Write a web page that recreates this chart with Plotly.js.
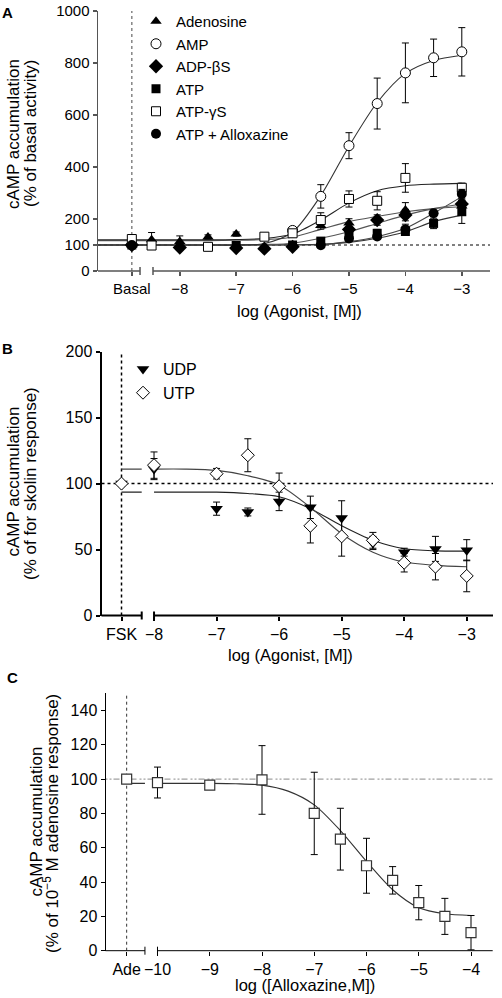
<!DOCTYPE html>
<html><head><meta charset="utf-8">
<script src="https://cdn.plot.ly/plotly-3.0.1.min.js"></script>
<style>html,body{margin:0;padding:0;background:#fff}#chart{width:502px;height:998px}</style>
</head><body><div id="chart"></div>
<script>
// ================= DATA =================
// ---- Panel A: log(agonist) doses, % of basal ----
const adenosineDose = ['Basal', -8.5, -8, -7.5, -7, -5.5, -5, -4, -3];
const adenosineVal  = [100, 120, 113, 131, 142, 175, 185, 235, 250];
const adenosineErr  = [4, 28, 22, 8, 8, 14, 16, 28, 20];

const ampDose = ['Basal', -6, -5.5, -5, -4.5, -4, -3.5, -3];
const ampVal  = [100, 156, 287, 482, 644, 762, 820, 843];
const ampErr  = [4, 8, 45, 50, 98, 115, 72, 93];

const adpbsDose = ['Basal', -8, -7, -6.5, -6, -5, -4.5, -4, -3];
const adpbsVal  = [100, 90, 88, 86, 93, 160, 196, 215, 258];
const adpbsErr  = [4, 8, 8, 6, 6, 12, 20, 22, 14];

const atpDose = ['Basal', -7, -6, -5.5, -5, -4.5, -4, -3.5, -3];
const atpVal  = [100, 98, 100, 115, 140, 145, 152, 183, 228];
const atpErr  = [4, 5, 5, 8, 12, 15, 15, 20, 45];

const atpgsDose = ['Basal', -8.5, -7.5, -6.5, -6, -5.5, -5, -4.5, -4, -3];
const atpgsVal  = [123, 98, 93, 132, 145, 196, 277, 270, 358, 320];
const atpgsErr  = [5, 5, 5, 8, 8, 28, 31, 35, 55, 18];

const alloxDose = ['Basal', -5.5, -5, -4.5, -4, -3.5, -3];
const alloxVal  = [100, 99, 125, 133, 160, 222, 296];
const alloxErr  = [4, 5, 10, 10, 20, 12, 18];

// fitted curves
const aCurveDose  = ['axis', 'Basal', -8.5, -8, -7.5, -7, -6.5, -6, -5.5, -5, -4.5, -4, -3.5, -3];
const ampCurve    = [100, 100, 100, 100, 100, 100, 106, 150, 290, 480, 648, 760, 810, 830];
const atpgsCurve  = [120, 120, 120, 120, 120, 121, 125, 142, 196, 262, 309, 328, 334, 337];
const adenoCurve  = [117, 117, 117, 117, 117, 118, 121, 130, 160, 190, 210, 228, 240, 247];
const adpbsCurve  = [100, 100, 100, 100, 100, 100, 102, 107, 126, 151, 183, 215, 240, 258];
const atpCurve    = [100, 100, 100, 100, 100, 100, 100, 101, 103, 110, 126, 151, 190, 215];
const alloxCurve  = [100, 100, 100, 100, 100, 100, 100, 100, 101, 113, 132, 164, 222, 286];
const aTickLabels = ['Basal', '−8', '−7', '−6', '−5', '−4', '−3'];
const aTickDoses  = ['Basal', -8, -7, -6, -5, -4, -3];

// ---- Panel B: % of forskolin response ----
const udpDose = ['FSK', -8, -7, -6.5, -6, -5.5, -5, -4.5, -4, -3.5, -3];
const udpVal  = [100, 111, 81, 78.5, 86.5, 82, 74, 55, 48, 50.5, 49.5];
const udpErr  = [2, 8, 5, 3, 7, 8.5, 13, 5, 3, 9.5, 8];

const utpDose = ['FSK', -8, -7, -6.5, -6, -5.5, -5, -4.5, -4, -3.5, -3];
const utpVal  = [100, 114, 107.5, 121.5, 98, 68, 60, 57, 40, 37, 30];
const utpErr  = [2, 10, 4, 12.5, 10, 13, 15, 6, 7, 10, 12];

const bCurveDose = ['FSK', 'break', null, -8, -7.5, -7, -6.5, -6, -5.5, -5, -4.5, -4, -3.5, -3];
const utpCurve   = [111, 111, null, 111, 111, 110, 106, 99, 82, 62, 48, 40.5, 38, 37];
const udpCurve   = [93.5, 93.5, null, 93.5, 93.5, 93.5, 92.5, 90, 81, 68, 57, 50.6, 49, 48.8];
const bTickLabels = ['FSK', '−8', '−7', '−6', '−5', '−4', '−3'];
const bTickDoses  = ['FSK', -8, -7, -6, -5, -4, -3];

// ---- Panel C: % of 10^-5 M adenosine response ----
const alloxCDose = ['Ade', -10, -9, -8, -7, -6.5, -6, -5.5, -5, -4.5, -4];
const alloxCVal  = [100, 98, 96.5, 99.5, 80, 65, 49.5, 41, 28, 20, 10.5];
const alloxCErr  = [1, 9, 1, 20, 24, 18, 16, 8, 10, 10.5, 10];
const cCurveDose = ['Ade', 'break', null, -10, -9.5, -9, -8.5, -8, -7.5, -7, -6.5, -6, -5.5, -5, -4.5, -4];
const cCurve     = [97.5, 97.5, null, 97.5, 97.5, 97.5, 97.3, 96.5, 93, 85, 70, 52, 35.5, 25, 21.5, 20.5];
const cTickLabels = ['Ade', '−10', '−9', '−8', '−7', '−6', '−5', '−4'];
const cTickDoses  = ['Ade', -10, -9, -8, -7, -6, -5, -4];

// ================= LAYOUT CONFIG =================
const W = 502, H = 998;
const FONT = 'Liberation Sans, Arial, Helvetica, sans-serif';
const A = {x0: 98, x1: 490, y0: 11, y1: 271, range: [-9.45, -2.5], yr: [0, 1000],
           special: {Basal: -8.85, axis: -9.45}, brk: [-8.705, -8.475]};
const B = {x0: 101.5, x1: 493, y0: 351.7, y1: 615.5, range: [-8.84, -2.58], yr: [0, 200],
           special: {FSK: -8.52, 'break': -8.197}, brk: [-8.197, -8.0]};
const C = {x0: 105.5, x1: 492.7, y0: 693.3, y1: 950.7, range: [-10.995, -3.585], yr: [0, 150],
           special: {Ade: -10.59, 'break': -10.24}, brk: [-10.24, -10.0]};

function pos(P, d) { return (d === null) ? null : (typeof d === 'string' ? P.special[d] : d); }
function xs(P, arr) { return arr.map(d => pos(P, d)); }
function dom(P) { return {x: [P.x0 / W, P.x1 / W], y: [1 - P.y1 / H, 1 - P.y0 / H]}; }
function fx(P, v) { return (v - P.range[0]) / (P.range[1] - P.range[0]); }

const traces = [];
function curve(P, xa, ya, doses, vals, color) {
  traces.push({x: xs(P, doses), y: vals, xaxis: xa, yaxis: ya, mode: 'lines', type: 'scatter',
    line: {color: color, width: 1.1, shape: 'spline', smoothing: 0.8}, connectgaps: false,
    showlegend: false, hoverinfo: 'skip'});
}
function pts(P, xa, ya, name, doses, vals, errs, marker, legend) {
  const t = {x: xs(P, doses), y: vals, xaxis: xa, yaxis: ya, name: name, type: 'scatter', mode: 'markers',
    marker: marker, cliponaxis: false,
    error_y: {type: 'data', array: errs, visible: true, color: '#000', thickness: 1, width: 3.5},
    showlegend: !!legend, legendgroup: name};
  if (legend) t.legend = legend;
  traces.push(t);
}

// Panel A curves
curve(A, 'x', 'y', aCurveDose, atpCurve, '#333');
curve(A, 'x', 'y', aCurveDose, alloxCurve, '#444');
curve(A, 'x', 'y', aCurveDose, adpbsCurve, '#555');
curve(A, 'x', 'y', aCurveDose, adenoCurve, '#555');
curve(A, 'x', 'y', aCurveDose, atpgsCurve, '#222');
curve(A, 'x', 'y', aCurveDose, ampCurve, '#333');
// Panel A points
pts(A, 'x', 'y', 'Adenosine', adenosineDose, adenosineVal, adenosineErr, {symbol: 'triangle-up', size: 10, color: '#000'}, 'legend');
pts(A, 'x', 'y', 'AMP', ampDose, ampVal, ampErr, {symbol: 'circle', size: 10, color: '#fff', line: {color: '#000', width: 1}}, 'legend');
pts(A, 'x', 'y', 'ADP-βS', adpbsDose, adpbsVal, adpbsErr, {symbol: 'diamond', size: 11, color: '#000'}, 'legend');
pts(A, 'x', 'y', 'ATP', atpDose, atpVal, atpErr, {symbol: 'square', size: 9, color: '#000'}, 'legend');
pts(A, 'x', 'y', 'ATP-γS', atpgsDose, atpgsVal, atpgsErr, {symbol: 'square', size: 9, color: '#fff', line: {color: '#000', width: 1}}, 'legend');
pts(A, 'x', 'y', 'ATP + Alloxazine', alloxDose, alloxVal, alloxErr, {symbol: 'circle', size: 10, color: '#000'}, 'legend');

// Panel B
curve(B, 'x2', 'y2', bCurveDose, udpCurve, '#222');
curve(B, 'x2', 'y2', bCurveDose, utpCurve, '#444');
pts(B, 'x2', 'y2', 'UDP', udpDose, udpVal, udpErr, {symbol: 'triangle-down', size: 11, color: '#000'}, 'legend2');
pts(B, 'x2', 'y2', 'UTP', utpDose, utpVal, utpErr, {symbol: 'diamond', size: 10, color: '#fff', line: {color: '#000', width: 1}}, 'legend2');

// Panel C
curve(C, 'x3', 'y3', cCurveDose, cCurve, '#333');
pts(C, 'x3', 'y3', 'Alloxazine', alloxCDose, alloxCVal, alloxCErr, {symbol: 'square', size: 10, color: '#fff', line: {color: '#333', width: 1.2}}, null);

function xaxis(P, tickDoses, tickLabels, col, lw, n, fs) {
  return {domain: dom(P).x, range: P.range, anchor: n, tickvals: xs(P, tickDoses), ticktext: tickLabels,
    ticks: 'outside', ticklen: 4, tickwidth: lw, tickcolor: col, showline: false, zeroline: false, showgrid: false,
    tickfont: {family: FONT, size: fs, color: '#000'}, fixedrange: true};
}
function yaxis(P, tickvals, col, lw, n, fs) {
  return {domain: dom(P).y, range: P.yr, anchor: n, tickvals: tickvals, ticks: 'outside', ticklen: 4,
    tickwidth: lw, tickcolor: col, showline: true, linecolor: col, linewidth: lw, zeroline: false, showgrid: false,
    tickfont: {family: FONT, size: fs, color: '#000'}, fixedrange: true};
}

const shapes = [];
function axisLine(P, xr, yr, col, lw) {
  const dy = 4 / (P.y1 - P.y0);
  shapes.push({type: 'line', xref: xr + ' domain', yref: yr + ' domain', x0: 0, x1: fx(P, P.brk[0]), y0: 0, y1: 0, line: {color: col, width: lw}});
  shapes.push({type: 'line', xref: xr + ' domain', yref: yr + ' domain', x0: fx(P, P.brk[1]), x1: 1, y0: 0, y1: 0, line: {color: col, width: lw}});
  P.brk.forEach(b => shapes.push({type: 'line', xref: xr + ' domain', yref: yr + ' domain', x0: fx(P, b), x1: fx(P, b), y0: -dy, y1: dy, line: {color: col, width: lw}}));
}
axisLine(A, 'x', 'y', '#555', 1.5);
axisLine(B, 'x2', 'y2', '#000', 2);
axisLine(C, 'x3', 'y3', '#000', 1);

// reference lines
shapes.push({type: 'line', xref: 'x', yref: 'y', x0: A.range[0], x1: A.range[1], y0: 100, y1: 100, layer: 'below', line: {color: '#000', width: 1, dash: 'dot'}});
shapes.push({type: 'line', xref: 'x', yref: 'y', x0: A.special.Basal, x1: A.special.Basal, y0: 0, y1: 1000, layer: 'below', line: {color: '#666', width: 1.2, dash: 'dot'}});
shapes.push({type: 'line', xref: 'x2', yref: 'y2', x0: B.range[0], x1: B.range[1], y0: 100, y1: 100, layer: 'below', line: {color: '#000', width: 1.5, dash: 'dot'}});
shapes.push({type: 'line', xref: 'x2', yref: 'y2', x0: B.special.FSK, x1: B.special.FSK, y0: 0, y1: 200, layer: 'below', line: {color: '#000', width: 1.5, dash: 'dot'}});
shapes.push({type: 'line', xref: 'x3', yref: 'y3', x0: C.range[0], x1: C.range[1], y0: 100, y1: 100, layer: 'below', line: {color: '#888', width: 1, dash: '2px,2px,2px,2px,6px,3px'}});
shapes.push({type: 'line', xref: 'x3', yref: 'y3', x0: C.special.Ade, x1: C.special.Ade, y0: 0, y1: 150, layer: 'below', line: {color: '#333', width: 1, dash: 'dot'}});

function ann(text, px, py, opts) {
  return Object.assign({text: text, xref: 'paper', yref: 'paper', x: px / W, y: 1 - py / H, showarrow: false,
    xanchor: 'center', yanchor: 'middle', font: {family: FONT, size: 16.5, color: '#000'}}, opts || {});
}
const TF = {family: FONT, size: 17, color: '#000'};
const annotations = [
  ann('<b>A</b>', 7, 12, {font: {family: FONT, size: 15, color: '#000'}}),
  ann('<b>B</b>', 7, 348, {font: {family: FONT, size: 15, color: '#000'}}),
  ann('<b>C</b>', 12, 677, {font: {family: FONT, size: 15, color: '#000'}}),
  ann('cAMP accumulation', 13, 134, {textangle: -90, font: TF}),
  ann('(% of basal activity)', 30, 134, {textangle: -90, font: TF}),
  ann('cAMP accumulation', 13.5, 482, {textangle: -90, font: TF}),
  ann('(% of for skolin response)', 30, 484, {textangle: -90, font: TF}),
  ann('cAMP accumulation', 35.5, 822, {textangle: -90, font: TF}),
  ann('(% of 10<sup>−5</sup> M adenosine response)', 51, 824, {textangle: -90, font: TF}),
  ann('log (Agonist, [M])', 299, 311),
  ann('log (Agonist, [M])', 290, 655),
  ann('log ([Alloxazine,M])', 305, 985)
];

const legendBase = {xanchor: 'left', yanchor: 'top', bgcolor: 'rgba(0,0,0,0)', borderwidth: 0,
  font: {family: FONT, size: 16, color: '#000'}, traceorder: 'grouped', tracegroupgap: 0, itemclick: false, itemdoubleclick: false};

const layout = {
  width: W, height: H, margin: {l: 0, r: 0, t: 0, b: 0}, paper_bgcolor: '#fff', plot_bgcolor: 'rgba(0,0,0,0)',
  showlegend: true, font: {family: FONT, size: 16, color: '#000'},
  xaxis: xaxis(A, aTickDoses, aTickLabels, '#555', 1.5, 'y', 15),
  yaxis: yaxis(A, [0, 100, 200, 400, 600, 800, 1000], '#555', 1.5, 'x', 15),
  xaxis2: xaxis(B, bTickDoses, bTickLabels, '#000', 2, 'y2', 16),
  yaxis2: yaxis(B, [0, 50, 100, 150, 200], '#000', 2, 'x2', 16),
  xaxis3: xaxis(C, cTickDoses, cTickLabels, '#000', 1, 'y3', 16),
  yaxis3: yaxis(C, [0, 20, 40, 60, 80, 100, 120, 140], '#000', 1, 'x3', 16),
  legend: Object.assign({}, legendBase, {x: 136 / W, y: 1 - 5 / H, font: {family: FONT, size: 15, color: '#000'}}),
  legend2: Object.assign({}, legendBase, {x: 123 / W, y: 1 - 352 / H}),
  shapes: shapes, annotations: annotations
};

Plotly.newPlot('chart', traces, layout, {staticPlot: true, displayModeBar: false});
</script></body></html>
